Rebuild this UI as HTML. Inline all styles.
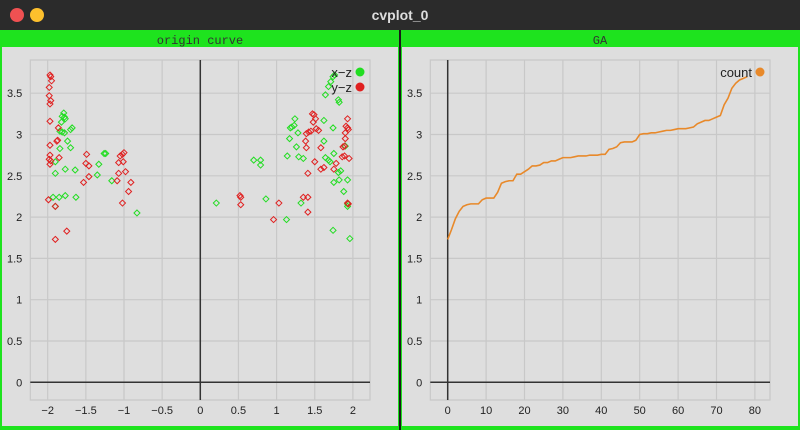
<!DOCTYPE html>
<html><head><meta charset="utf-8">
<style>
html,body{margin:0;padding:0;background:#2b2b2b;}
body{width:800px;height:430px;overflow:hidden;position:relative;font-family:"Liberation Sans",sans-serif;}
#titlebar{position:absolute;left:0;top:0;width:800px;height:30px;background:#2b2b2b;}
#title{position:absolute;left:0;width:800px;top:7px;text-align:center;color:#ddd;font-weight:bold;font-size:14px;}
.dot{position:absolute;top:8px;width:14px;height:14px;border-radius:50%;}
svg{position:absolute;left:0;top:0;}
</style></head><body>
<div id="titlebar">
<div class="dot" style="left:10px;background:#f05152"></div>
<div class="dot" style="left:30px;background:#fdc02d"></div>
<div id="title">cvplot_0</div>
</div>
<svg id="chart" width="800" height="430" xmlns="http://www.w3.org/2000/svg"></svg>
<script>
// Scatter data (origin curve)
const xzX=[-1.90,-1.90,-1.93,-1.85,-1.90,-1.79,-1.81,-1.78,-1.77,-1.82,-1.84,-1.81,-1.78,-1.84,-1.77,-1.77,-1.74,-1.70,-1.70,-1.68,-1.63,-1.64,-1.35,-1.33,-1.26,-1.24,-1.16,-0.83,
0.21,0.70,0.79,0.79,0.86,1.13,1.32,1.14,1.18,1.20,1.23,1.24,1.28,1.17,1.26,1.29,1.35,1.62,1.62,1.64,1.68,1.70,1.74,1.75,1.68,1.71,1.74,1.76,1.64,1.81,1.82,1.81,1.84,1.75,1.82,1.93,1.88,1.90,1.93,1.93,1.74,1.96];
const xzY=[2.67,2.53,2.24,2.24,2.13,3.26,3.22,3.21,3.19,3.15,3.04,3.03,3.02,2.83,2.58,2.26,2.92,2.84,3.06,3.08,2.24,2.57,2.51,2.64,2.77,2.77,2.44,2.05,
2.17,2.69,2.69,2.63,2.22,1.97,2.17,2.74,3.08,3.09,3.11,3.19,3.02,2.95,2.85,2.73,2.71,3.17,2.92,2.72,2.69,2.67,3.08,2.77,3.58,3.64,3.70,3.72,3.48,3.42,3.39,2.54,2.56,2.42,2.45,2.45,2.31,2.86,2.16,2.13,1.84,1.74];
const yzX=[-1.97,-1.96,-1.95,-1.98,-1.98,-1.96,-1.97,-1.97,-1.97,-1.97,-1.98,-1.97,-1.96,-1.99,-1.90,-1.90,-1.86,-1.88,-1.87,-1.85,-1.75,-1.49,-1.50,-1.46,-1.53,-1.46,-1.07,-1.05,-1.02,-1.00,-1.01,-0.98,-1.07,-1.09,-1.02,-0.91,-0.94,
0.52,0.53,0.53,1.03,0.96,1.41,1.35,1.41,1.50,1.41,1.58,1.62,1.47,1.49,1.51,1.48,1.39,1.42,1.45,1.52,1.55,1.38,1.39,1.58,1.93,1.91,1.93,1.94,1.90,1.90,1.87,1.89,1.86,1.89,1.95,1.94,1.93,1.75,1.78];
const yzY=[3.72,3.70,3.65,3.57,3.47,3.41,3.37,3.16,2.87,2.75,2.70,2.64,2.68,2.21,2.13,1.73,3.08,2.92,2.93,2.72,1.83,2.76,2.65,2.62,2.42,2.49,2.66,2.74,2.76,2.78,2.67,2.55,2.53,2.44,2.17,2.42,2.31,
2.26,2.24,2.15,2.17,1.97,2.24,2.24,2.06,2.67,2.53,2.58,2.60,3.25,3.24,3.19,3.15,3.01,3.03,3.04,3.07,3.05,2.92,2.84,2.84,3.19,3.10,3.08,3.06,3.02,2.95,2.85,2.86,2.73,2.74,2.71,2.16,2.17,2.58,2.65];
// GA count series
const gaY=[1.73,1.85,1.98,2.07,2.13,2.15,2.16,2.16,2.16,2.21,2.23,2.23,2.23,2.30,2.41,2.43,2.44,2.44,2.52,2.52,2.55,2.58,2.62,2.62,2.63,2.66,2.66,2.68,2.68,2.70,2.72,2.72,2.72,2.73,2.74,2.74,2.74,2.75,2.75,2.75,2.76,2.76,2.82,2.83,2.85,2.90,2.91,2.91,2.91,2.93,3.00,3.01,3.01,3.02,3.02,3.03,3.04,3.05,3.05,3.06,3.07,3.07,3.07,3.08,3.09,3.13,3.15,3.17,3.17,3.19,3.21,3.23,3.36,3.44,3.56,3.62,3.66,3.68,3.70];
const yTicks=[0,0.5,1,1.5,2,2.5,3,3.5];
const xTicksL=[-2,-1.5,-1,-0.5,0,0.5,1,1.5,2];
const xTicksR=[0,10,20,30,40,50,60,70,80];

const NS="http://www.w3.org/2000/svg";
const svg=document.getElementById('chart');
function mk(tag,attrs,parent){const e=document.createElementNS(NS,tag);for(const k in attrs)e.setAttribute(k,attrs[k]);(parent||svg).appendChild(e);return e;}
function txt(x,y,s,anchor,parent,size){const t=mk('text',{x:x,y:y,'text-anchor':anchor||'middle','font-size':size||11,fill:'#222','font-family':'"Liberation Sans",sans-serif'},parent);t.textContent=s;return t;}

const PT=60,PB=400,Y0=382.3,YU=82.6;
function sy(v){return Y0-v*YU;}
const lx=v=>200.3+v*76.3;
const rx=v=>447.7+v*3.84;

function panel(px,title,name){
  const g=mk('g',{});
  
  
  mk('rect',{x:px,y:30,width:400,height:400,fill:'#1ee31e'},g);
  mk('rect',{x:px+2,y:47,width:396,height:379,fill:'#dedede'},g);
  const t=txt(px+200,44,title,'middle',g,12);
  t.setAttribute('font-family','"Liberation Mono",monospace');
  t.setAttribute('fill','#333');
  
  
  return g;
}
function axes(g,x0,x1,xs,xticks,name){
  mk('rect',{x:x0,y:PT,width:x1-x0,height:PB-PT,fill:'#dedede',stroke:'#c8c8c8','stroke-width':1.2},g);
  yTicks.forEach(v=>{mk('line',{x1:x0,x2:x1,y1:sy(v),y2:sy(v),stroke:'#c8c8c8','stroke-width':1.2},g);
    const t=txt(x0-8,sy(v)+4,String(v),'end',g,11);
    });
  xticks.forEach(v=>{mk('line',{x1:xs(v),x2:xs(v),y1:PT,y2:PB,stroke:'#c8c8c8','stroke-width':1.2},g);
    const t=txt(xs(v),414,String(v).replace('-','\u2212'),'middle',g,11);
    });
  const xa=mk('line',{x1:x0,x2:x1,y1:sy(0),y2:sy(0),stroke:'#333','stroke-width':1.5},g);
  
  const ya=mk('line',{x1:xs(0),x2:xs(0),y1:PT,y2:PB,stroke:'#333','stroke-width':1.5},g);
  
}
function diamond(g,x,y,c){
  return mk('path',{d:`M${x},${y-3}L${x+3},${y}L${x},${y+3}L${x-3},${y}Z`,fill:'none',stroke:c,'stroke-width':1},g);
}
// Left panel
const gl=panel(0,'origin curve','origin-curve-panel');
axes(gl,30.3,370,lx,xTicksL,'origin');
const sg=mk('g',{},gl);

xzX.forEach((v,i)=>{const d=diamond(sg,lx(v),sy(xzY[i]),'#22dd22');

});
const rg=mk('g',{},gl);

yzX.forEach((v,i)=>{const d=diamond(rg,lx(v),sy(yzY[i]),'#e02020');

});
let t=txt(352,77,'x\u2212z','end',gl,13);
mk('circle',{cx:360,cy:72,r:4.5,fill:'#22dd22'},gl);
t=txt(352,92,'y\u2212z','end',gl,13);
mk('circle',{cx:360,cy:87,r:4.5,fill:'#e02020'},gl);
// Right panel
const gr=panel(400,'GA','ga-panel');
axes(gr,430.3,770,rx,xTicksR,'ga');
const pts=gaY.map((v,i)=>rx(i)+','+sy(v)).join(' ');
const pl=mk('polyline',{points:pts,fill:'none',stroke:'#e8892a','stroke-width':1.6},gr);

t=txt(752,77,'count','end',gr,13);
mk('circle',{cx:760,cy:72,r:4.5,fill:'#e8892a'},gr);
// panel separator
mk('rect',{x:399,y:30,width:2,height:400,fill:'#1a1a1a'});
</script>
</body></html>
